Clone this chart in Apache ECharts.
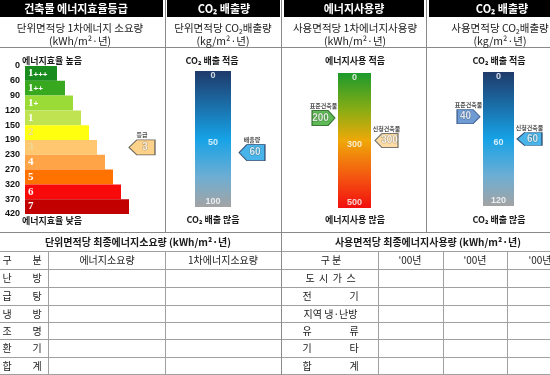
<!DOCTYPE html>
<html><head><meta charset="utf-8">
<script src="https://cdn.jsdelivr.net/npm/echarts@6/dist/echarts.min.js"></script>
<style>html,body{margin:0;padding:0;background:#fff}#c{width:550px;height:375px}</style>
</head><body><div id="c"></div>
<script>
// ---------------- DATA ----------------
const grades = ['1+++', '1++', '1+', '1', '2', '3', '4', '5', '6', '7'];
const gradeTicks = [0, 60, 90, 120, 150, 190, 230, 270, 320, 370, 420];
const gradeBarLen = [4, 5, 6, 7, 8, 9, 10, 11, 12, 13];
const myGrade = '3';

const co2Ticks = [0, 50, 100];
const co2Value = 60;

const useTicks = [0, 300, 500];
const useStandard = 200;
const useApplied = 300;

const co2UseTicks = [0, 60, 120];
const co2UseStandard = 40;
const co2UseApplied = 60;

const leftHeadCols = ['에너지소요량', '1차에너지소요량'];
const leftRows = ['난방', '급탕', '냉방', '조명', '환기', '합계'];
const rightHeadCols = ["'00년", "'00년", "'00년"];
const rightRows = ['도시가스', '전기', '지역 냉·난방', '유류', '기타', '합계'];

// ---------------- STYLE ----------------
const KR = '"Noto Sans CJK KR", "Noto Sans", sans-serif';
const gradeColors = ['#1a8c1f', '#38a91f', '#9bdb38', '#c0e352', '#ffff10', '#ffc870', '#ffa447', '#ff7200', '#f80a0a', '#c20000'];
const ARROW_L = 'path://M0,50 L30,0 L100,0 L100,100 L30,100 Z';
const ARROW_R = 'path://M0,0 L70,0 L100,50 L70,100 L0,100 Z';

// piecewise position of a value between evenly spaced ticks
function toIdx(v, ticks) {
  for (let i = 0; i < ticks.length - 1; i++) {
    if (v <= ticks[i + 1]) return i + (v - ticks[i]) / (ticks[i + 1] - ticks[i]);
  }
  return ticks.length - 1;
}

function txt(s, x, y, size, o) {
  o = o || {};
  return { type: 'text', silent: true, style: {
    text: s, x: x, y: y, fill: o.fill || '#1a1a1a', fontSize: size, fontFamily: KR,
    fontWeight: o.bold ? 'bold' : 'normal', align: o.align || 'center', verticalAlign: 'middle'
  } };
}
function ln(x1, y1, x2, y2, c) {
  return { type: 'line', silent: true, shape: { x1, y1, x2, y2 }, style: { stroke: c || '#a0a0a0', lineWidth: 1 } };
}
function rc(x, y, w, h, c) {
  return { type: 'rect', silent: true, shape: { x, y, width: w, height: h }, style: { fill: c } };
}
function spread(label, xs, y, size) {
  // two-syllable labels are justified across the cell
  if (label.length === 2) return [txt(label[0], xs[0], y, size), txt(label[1], xs[1], y, size)];
  return [txt(label.split('').join(label.indexOf(' ') >= 0 ? '' : '  '), (xs[0] + xs[1]) / 2, y, size)];
}

const G = [];
// headers
G.push(rc(0, 0, 163, 17, '#000'), rc(167, 0, 113, 17, '#000'), rc(284, 0, 140, 17, '#000'), rc(429, 0, 121, 17, '#000'));
G.push(txt('건축물 에너지효율등급', 76, 9, 11, { bold: true, fill: '#fff' }));
G.push(txt('CO₂ 배출량', 224, 9, 11, { bold: true, fill: '#fff' }));
G.push(txt('에너지사용량', 354, 9, 11, { bold: true, fill: '#fff' }));
G.push(txt('CO₂ 배출량', 502, 9, 11, { bold: true, fill: '#fff' }));
// dividers
G.push(ln(165.5, 0, 165.5, 232, '#8a8a8a'), ln(281.5, 0, 281.5, 375, '#8a8a8a'), ln(426.5, 0, 426.5, 232, '#8a8a8a'));
G.push(ln(0, 47.5, 550, 47.5, '#8a8a8a'), ln(0, 232.5, 550, 232.5, '#8a8a8a'));
// subtitles
G.push(txt('단위면적당 1차에너지 소요량', 80, 28, 10.5), txt('(kWh/m²·년)', 80, 41, 10.5));
G.push(txt('단위면적당 CO₂배출량', 223, 28, 10.5), txt('(kg/m²·년)', 223, 41, 10.5));
G.push(txt('사용면적당 1차에너지사용량', 355, 28, 10.5), txt('(kWh/m²·년)', 355, 41, 10.5));
G.push(txt('사용면적당 CO₂배출량', 500, 28, 10.5), txt('(kg/m²·년)', 500, 41, 10.5));
// gauge captions
G.push(txt('에너지효율 높음', 22, 61, 9, { bold: true, align: 'left' }), txt('에너지효율 낮음', 22, 221, 9, { bold: true, align: 'left' }));
G.push(txt('CO₂ 배출 적음', 212, 61, 9, { bold: true }), txt('CO₂ 배출 많음', 213, 220, 9, { bold: true }));
G.push(txt('에너지사용 적음', 355, 61, 9, { bold: true }), txt('에너지사용 많음', 355, 220, 9, { bold: true }));
G.push(txt('CO₂ 배출 적음', 499, 61, 9, { bold: true }), txt('CO₂ 배출 많음', 499, 220, 9, { bold: true }));

// bottom tables
const rowLines = [251.5, 269.5, 287.5, 305.5, 322.5, 339.5, 357.5, 374.5];
const rowMid = [260.5, 278.5, 296.5, 314, 331, 348.5, 366];
G.push(txt('단위면적당 최종에너지소요량 (kWh/m²·년)', 138, 242, 10, { bold: true }));
G.push(txt('사용면적당 최종에너지사용량 (kWh/m²·년)', 428, 242, 10, { bold: true }));
rowLines.forEach(y => { G.push(ln(0, y, 281, y), ln(282, y, 550, y)); });
[48.5, 165.5].forEach(x => G.push(ln(x, 251.5, x, 375)));
[378.5, 443.5, 507.5].forEach(x => G.push(ln(x, 251.5, x, 375)));
G.push(...spread('구분', [7, 37], rowMid[0], 10));
G.push(txt(leftHeadCols[0], 107, rowMid[0], 10), txt(leftHeadCols[1], 223, rowMid[0], 10));
leftRows.forEach((r, i) => G.push(...spread(r, [7, 37], rowMid[i + 1], 10)));
G.push(txt('구 분', 331, rowMid[0], 10));
[410, 475, 540].forEach((x, i) => G.push(txt(rightHeadCols[i], x, rowMid[0], 10)));
rightRows.forEach((r, i) => G.push(...spread(r, [307, 354], rowMid[i + 1], 10)));

// ---------------- SERIES ----------------
const series = [];
// grade staircase
series.push({
  type: 'bar', xAxisIndex: 0, yAxisIndex: 0, silent: true, barCategoryGap: 0,
  data: grades.map((g, i) => ({ name: g, value: gradeBarLen[i], itemStyle: { color: gradeColors[i] } })),
  label: {
    show: true, position: 'insideLeft', distance: 3,
    formatter: p => {
      const n = p.name[0], plus = p.name.slice(1);
      const k = (n === '2' || n === '3') ? 'm' : 'n';
      return '{' + k + '|' + n + '}' + (plus ? '{p|' + plus + '}' : '');
    },
    rich: {
      n: { color: '#fff', fontSize: 11, fontWeight: 'bold', fontFamily: 'Liberation Serif' },
      m: { color: '#eadb9a', fontSize: 11, fontWeight: 'bold', fontFamily: 'Liberation Serif' },
      p: { color: '#fff', fontSize: 8, fontWeight: 'bold', fontFamily: 'Liberation Sans', padding: [2, 0, 0, 0] }
    }
  }
});
function arrowPair(xi, yi, pos, dir, dx, size, fill, border, value, name) {
  const base = {
    type: 'scatter', xAxisIndex: xi, yAxisIndex: yi, clip: false, silent: true,
    symbol: dir === 'L' ? ARROW_L : ARROW_R, symbolSize: size, symbolOffset: [dx, 0]
  };
  return [
    Object.assign({}, base, {
      data: [pos], itemStyle: { color: fill, borderColor: border, borderWidth: 1 }, z: 5,
      label: { show: true, position: 'inside', formatter: String(value), offset: [dir === 'L' ? 3 : -3, 0],
        color: '#fff', fontSize: 10, fontWeight: 'bold', fontFamily: 'Liberation Sans',
        textBorderColor: 'rgba(0,0,0,0.35)', textBorderWidth: 1 }
    }),
    Object.assign({}, base, {
      data: [pos], itemStyle: { color: 'rgba(0,0,0,0)' }, z: 5,
      label: { show: true, position: 'top', distance: 2, formatter: name,
        color: '#222', fontSize: 6, fontWeight: 'bold', fontFamily: KR }
    })
  ];
}
series.push(...arrowPair(0, 0, [16, myGrade], 'L', -11, [26, 15], '#fbc66b', '#444', myGrade, '등급'));

function gauge(gi, ticks, grad) {
  const yi = gi + 1, last = ticks.length - 1;
  series.push({
    type: 'bar', xAxisIndex: gi, yAxisIndex: yi, silent: true, barWidth: '100%',
    data: [toIdx(ticks[last], ticks)],
    itemStyle: { color: new echarts.graphic.LinearGradient(0, 0, 0, 1, grad) }
  });
  series.push({
    type: 'scatter', xAxisIndex: gi, yAxisIndex: yi, clip: false, silent: true, z: 4,
    symbolSize: 1, itemStyle: { color: 'rgba(0,0,0,0)' },
    data: ticks.map((t, i) => ({ name: String(t), value: [0, toIdx(t, ticks)],
      label: { offset: [0, i === 0 ? 5 : (i === last ? -5 : 4)] } })),
    label: { show: true, position: 'inside', formatter: '{b}', color: '#fff', fontSize: 9,
      fontWeight: 'bold', fontFamily: 'Liberation Sans' }
  });
}
const blueGrad = [{ offset: 0, color: '#1f3a6a' }, { offset: 0.5, color: '#16a2e6' }, { offset: 0.78, color: '#6eaed3' }, { offset: 1, color: '#a3a3a3' }];
const useGrad = [{ offset: 0, color: '#1c9a2c' }, { offset: 0.28, color: '#8cad14' }, { offset: 0.5, color: '#eea808' }, { offset: 0.75, color: '#f45c10' }, { offset: 1, color: '#f20e0e' }];

gauge(1, co2Ticks, blueGrad);
series.push(...arrowPair(1, 2, [0, toIdx(co2Value, co2Ticks)], 'L', 39, [26, 16], '#1aa1e3', '#1b2b52', co2Value, '배출량'));

gauge(2, useTicks, useGrad);
series.push(...arrowPair(2, 3, [0, toIdx(useStandard, useTicks)], 'R', -31, [23, 15], '#37a92b', '#1e5e1a', useStandard, '표준건축물'));
series.push(...arrowPair(2, 3, [0, toIdx(useApplied, useTicks)], 'L', 32, [23, 14], '#fcd48f', '#555', useApplied, '신청건축물'));

gauge(3, co2UseTicks, blueGrad);
series.push(...arrowPair(3, 4, [0, toIdx(co2UseStandard, co2UseTicks)], 'R', -30, [23, 14], '#4a82c8', '#2a4a7a', co2UseStandard, '표준건축물'));
series.push(...arrowPair(3, 4, [0, toIdx(co2UseApplied, co2UseTicks)], 'L', 31, [25, 13], '#1aa1e3', '#1b2b52', co2UseApplied, '신청건축물'));

const hiddenY = (gi, ticks) => ({ gridIndex: gi, type: 'value', min: 0, max: ticks.length - 1, inverse: true, show: false });

const option = {
  animation: false,
  graphic: { elements: G },
  grid: [
    { left: 25, top: 66, width: 128, height: 148, outerBoundsMode: 'none' },
    { left: 195, top: 71, width: 36, height: 136, outerBoundsMode: 'none' },
    { left: 338, top: 73, width: 33, height: 135, outerBoundsMode: 'none' },
    { left: 483, top: 72, width: 31, height: 134, outerBoundsMode: 'none' }
  ],
  xAxis: [
    { gridIndex: 0, type: 'value', min: 0, max: 16, show: false },
    { gridIndex: 1, type: 'category', data: [''], show: false },
    { gridIndex: 2, type: 'category', data: [''], show: false },
    { gridIndex: 3, type: 'category', data: [''], show: false }
  ],
  yAxis: [
    { gridIndex: 0, type: 'category', data: grades, inverse: true, show: false, position: 'right' },
    { gridIndex: 0, type: 'value', min: 0, max: gradeTicks.length - 1, interval: 1, inverse: true,
      position: 'left', offset: 0,
      axisLine: { show: false }, axisTick: { show: false }, splitLine: { show: false },
      axisLabel: { formatter: v => String(gradeTicks[v]), margin: 5, color: '#111', fontSize: 9,
        fontWeight: 'bold', fontFamily: 'Liberation Sans' } },
    hiddenY(1, co2Ticks),
    hiddenY(2, useTicks),
    hiddenY(3, co2UseTicks)
  ],
  series: series
};
const chart = echarts.init(document.getElementById('c'), null, { renderer: 'canvas' });
chart.setOption(option);
</script></body></html>
